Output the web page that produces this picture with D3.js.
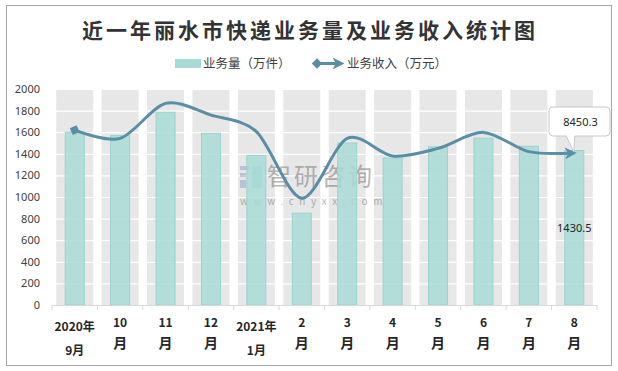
<!DOCTYPE html>
<html>
<head>
<meta charset="utf-8">
<script src="https://cdn.jsdelivr.net/npm/d3@7"></script>
<style>
body { margin: 0; background: #fff; }
text { font-family: "Noto Sans CJK SC", "Noto Sans", sans-serif; }
</style>
</head>
<body>
<div id="chart"></div>
<script>
var months = ["2020-9","2020-10","2020-11","2020-12","2021-1","2021-2","2021-3","2021-4","2021-5","2021-6","2021-7","2021-8"];
var monthLabels = [["2020年","9月"],["10","月"],["11","月"],["12","月"],["2021年","1月"],["2","月"],["3","月"],["4","月"],["5","月"],["6","月"],["7","月"],["8","月"]];
// 业务量（万件）
var volume = [1600,1570,1785,1590,1385,850,1500,1360,1465,1545,1470,1430.5];
// 业务收入（万元）, secondary axis (hidden)
var revenue = [9720,9260,11200,10550,9630,5930,9260,8280,8700,9590,8520,8450.3];
var yTicks = [0,200,400,600,800,1000,1200,1400,1600,1800,2000];

var width = 618, height = 371;
var plotLeft = 52, plotRight = 597, plotTop = 89, plotBottom = 305;

var svg = d3.select("#chart").append("svg")
    .attr("width", width)
    .attr("height", height);

svg.append("rect")
    .attr("x", 6.5).attr("y", 5.5)
    .attr("width", 605).attr("height", 360)
    .attr("fill", "#fff")
    .attr("stroke", "#a6a6a6");

var x = d3.scaleBand().domain(months).range([plotLeft, plotRight]);
var y = d3.scaleLinear().domain([0, 2000]).range([plotBottom, plotTop]);
var y2 = d3.scaleLinear().domain([0, 12000]).range([plotBottom, plotTop]);

function cx(d) { return x(d) + x.bandwidth() / 2; }

// grey background bands
svg.append("g").selectAll("rect")
    .data(months)
    .enter().append("rect")
    .attr("x", function(d) { return cx(d) - 18.5; })
    .attr("y", y(2000))
    .attr("width", 37)
    .attr("height", y(0) - y(2000))
    .attr("fill", "#e7e7e7");

// gridlines
svg.append("g").selectAll("line")
    .data(yTicks.slice(1))
    .enter().append("line")
    .attr("x1", plotLeft).attr("x2", plotRight)
    .attr("y1", function(d) { return y(d) + 0.5; })
    .attr("y2", function(d) { return y(d) + 0.5; })
    .attr("stroke", "#fff")
    .attr("stroke-width", 1.2);

// y axis labels
var yAxis = svg.append("g")
    .attr("transform", "translate(" + plotLeft + ",0)")
    .call(d3.axisLeft(y).tickValues(yTicks).tickFormat(d3.format("d")).tickSize(0).tickPadding(12));
yAxis.select(".domain").remove();
yAxis.selectAll("text")
    .style("font-family", "'Noto Sans', sans-serif")
    .style("font-size", "11px")
    .attr("fill", "#404040");

// watermark
var wm = svg.append("g").attr("opacity", 0.5);
wm.append("rect").attr("x", 240).attr("y", 166).attr("width", 10).attr("height", 4).attr("fill", "#8a9cc4");
wm.append("rect").attr("x", 240).attr("y", 173).attr("width", 6).attr("height", 4).attr("fill", "#8a9cc4");
wm.append("rect").attr("x", 240).attr("y", 180).attr("width", 6).attr("height", 8).attr("fill", "#8a9cc4");
wm.append("rect").attr("x", 252).attr("y", 166).attr("width", 10).attr("height", 22).attr("fill", "#5fb3d6");
wm.append("text")
    .attr("x", 267).attr("y", 185)
    .style("font-size", "24px")
    .style("letter-spacing", "3px")
    .attr("fill", "#6f6f6f")
    .text("智研咨询");
wm.append("text")
    .attr("x", 240).attr("y", 205)
    .style("font-size", "10px")
    .style("letter-spacing", "5.6px")
    .attr("fill", "#6f6f6f")
    .text("www.chyxx.com");

// volume bars
svg.append("g").selectAll("rect")
    .data(volume)
    .enter().append("rect")
    .attr("x", function(d, i) { return cx(months[i]) - 9.5; })
    .attr("y", function(d) { return y(d); })
    .attr("width", 19)
    .attr("height", function(d) { return y(0) - y(d); })
    .attr("fill", "#a8dbd6")
    .attr("fill-opacity", 0.85)
    .attr("stroke", "#9ad3cd")
    .attr("stroke-width", 1);

// x axis
svg.append("line")
    .attr("x1", plotLeft).attr("x2", plotRight)
    .attr("y1", plotBottom + 0.5).attr("y2", plotBottom + 0.5)
    .attr("stroke", "#d9d9d9");
svg.append("g").selectAll("line")
    .data(d3.range(months.length + 1))
    .enter().append("line")
    .attr("x1", function(i) { return plotLeft + i * x.bandwidth(); })
    .attr("x2", function(i) { return plotLeft + i * x.bandwidth(); })
    .attr("y1", plotBottom).attr("y2", plotBottom + 5)
    .attr("stroke", "#d9d9d9");

var xl = svg.append("g").selectAll("text")
    .data(monthLabels)
    .enter().append("text")
    .attr("text-anchor", "middle")
    .style("font-size", "12px")
    .style("font-weight", "bold")
    .attr("fill", "#262626");
xl.append("tspan")
    .attr("x", function(d, i) { return cx(months[i]); })
    .attr("y", function(d) { return d[0].length > 3 ? 331 : 327; })
    .text(function(d) { return d[0]; });
xl.append("tspan")
    .attr("x", function(d, i) { return cx(months[i]); })
    .attr("y", function(d) { return d[0].length > 3 ? 355 : 348; })
    .style("font-size", function(d) { return d[0].length > 3 ? "12px" : "14px"; })
    .text(function(d) { return d[1]; });

// markers
var defs = svg.append("defs");
defs.append("marker")
    .attr("id", "arrowEnd")
    .attr("viewBox", "0 0 10 10")
    .attr("refX", 8).attr("refY", 5)
    .attr("markerWidth", 4).attr("markerHeight", 4)
    .attr("orient", "auto")
    .append("path")
    .attr("d", "M0,0 L10,5 L0,10 L3,5 Z")
    .attr("fill", "#5a8ea5");
defs.append("marker")
    .attr("id", "diamondStart")
    .attr("viewBox", "0 0 10 10")
    .attr("refX", 5).attr("refY", 5)
    .attr("markerWidth", 3.5).attr("markerHeight", 3.5)
    .attr("orient", "auto")
    .append("path")
    .attr("d", "M0,5 L5,0 L10,5 L5,10 Z")
    .attr("fill", "#5a8ea5");

// revenue line
var line = d3.line()
    .x(function(d, i) { return cx(months[i]); })
    .y(function(d) { return y2(d); })
    .curve(d3.curveCardinal.tension(0.1));

svg.append("path")
    .datum(revenue)
    .attr("d", line)
    .attr("fill", "none")
    .attr("stroke", "#5a8ea5")
    .attr("stroke-width", 3)
    .attr("marker-start", "url(#diamondStart)")
    .attr("marker-end", "url(#arrowEnd)");

// callout for last revenue value
var last = revenue.length - 1;
var px = cx(months[last]), py = y2(revenue[last]);
var bx = 549, by = 107, bw = 61, bh = 29, r = 4;
svg.append("path")
    .attr("d", "M" + (bx + r) + "," + by +
        " H" + (bx + bw - r) + " Q" + (bx + bw) + "," + by + " " + (bx + bw) + "," + (by + r) +
        " V" + (by + bh - r) + " Q" + (bx + bw) + "," + (by + bh) + " " + (bx + bw - r) + "," + (by + bh) +
        " H" + (px + 0.5) + " L" + (px - 0.5) + "," + (py - 1) + " L" + (px - 8) + "," + (by + bh) +
        " H" + (bx + r) + " Q" + bx + "," + (by + bh) + " " + bx + "," + (by + bh - r) +
        " V" + (by + r) + " Q" + bx + "," + by + " " + (bx + r) + "," + by + " Z")
    .attr("fill", "#fff")
    .attr("stroke", "#c8c8c8");
svg.append("text")
    .attr("x", bx + bw / 2 + 1).attr("y", by + 19)
    .attr("text-anchor", "middle")
    .style("font-family", "'Noto Sans', sans-serif")
    .style("font-size", "11px")
    .attr("fill", "#262626")
    .text(revenue[last]);

// label for last volume value
svg.append("text")
    .attr("x", cx(months[last])).attr("y", 232)
    .attr("text-anchor", "middle")
    .style("font-family", "'Noto Sans', sans-serif")
    .style("font-size", "11px")
    .attr("fill", "#262626")
    .text(volume[last]);

// title
svg.append("text")
    .attr("x", 310).attr("y", 38)
    .attr("text-anchor", "middle")
    .style("font-size", "21px")
    .style("font-weight", "bold")
    .style("letter-spacing", "3px")
    .attr("fill", "#333")
    .text("近一年丽水市快递业务量及业务收入统计图");

// legend
var lg = svg.append("g");
lg.append("rect")
    .attr("x", 175).attr("y", 59)
    .attr("width", 26).attr("height", 9)
    .attr("fill", "#a8dbd6");
lg.append("text")
    .attr("x", 203).attr("y", 68)
    .style("font-size", "12.5px")
    .attr("fill", "#404040")
    .text("业务量（万件）");
lg.append("line")
    .attr("x1", 317).attr("x2", 342)
    .attr("y1", 63.5).attr("y2", 63.5)
    .attr("stroke", "#5a8ea5")
    .attr("stroke-width", 3)
    .attr("marker-start", "url(#diamondStart)")
    .attr("marker-end", "url(#arrowEnd)");
lg.append("text")
    .attr("x", 347).attr("y", 68)
    .style("font-size", "12.5px")
    .attr("fill", "#404040")
    .text("业务收入（万元）");
</script>
</body>
</html>
